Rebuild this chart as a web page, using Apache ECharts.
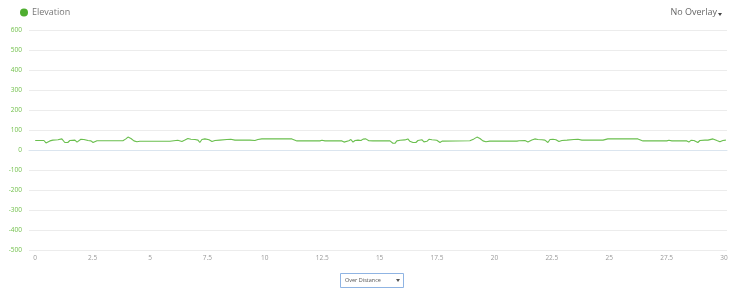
<!DOCTYPE html>
<html>
<head>
<meta charset="utf-8">
<script src="https://cdn.jsdelivr.net/npm/echarts@6/dist/echarts.min.js"></script>
<style>
html,body{margin:0;padding:0;background:#fff;}
#chart{width:738px;height:289px;}
</style>
</head>
<body>
<div id="chart"></div>
<script>
var distanceKm = [0,0.38,0.47,0.55,0.64,0.77,0.99,1.16,1.21,1.29,1.42,1.51,1.73,1.82,1.90,1.99,2.12,2.30,2.43,2.52,2.60,2.69,3.82,3.95,4.04,4.17,4.30,4.43,4.56,5.87,5.95,6.21,6.39,6.52,6.65,6.78,6.96,7.09,7.17,7.26,7.39,7.57,7.70,7.83,8.04,8.35,8.52,8.70,9.35,9.57,9.70,9.87,11.18,11.40,12.40,12.49,12.62,13.27,13.36,13.45,13.53,13.66,13.75,13.84,13.93,14.06,14.19,14.28,14.40,14.53,14.71,
  15.10,15.45,15.58,15.67,15.75,15.89,16.10,16.23,16.32,16.45,16.58,16.67,16.84,16.93,17.06,17.15,17.28,17.49,17.54,17.63,17.72,17.80,18.93,19.11,19.24,19.37,19.50,19.63,19.80,20.98,21.07,21.33,21.46,21.63,21.76,21.89,22.07,22.20,22.33,22.42,22.55,22.68,22.81,22.94,23.16,23.46,23.64,23.81,24.73,24.94,26.25,26.47,27.51,27.60,27.73,28.38,28.47,28.56,28.69,28.77,28.86,28.95,29.17,29.30,29.38,29.52,29.69,29.82,29.95,30.08];
var elevationM = [50,50,38,36,48,52,54,58,48,40,40,50,52,42,45,56,55,50,48,40,46,49,49,58,67,60,48,44,46,46,49,51,45,52,60,56,55,52,40,55,58,54,45,50,52,55,56,52,52,50,55,58,58,48,48,51,48,48,48,42,52,49,55,42,50,52,50,57,58,49,48,
  48,48,36,36,48,51,53,58,46,40,40,50,54,43,46,56,54,51,48,40,47,49,49,58,67,60,48,44,47,47,49,50,43,52,58,55,54,52,40,55,56,54,45,50,52,55,56,52,52,58,58,48,48,51,48,48,42,51,50,55,40,50,52,52,57,58,50,44,50,52];
var xTickLabels = [0,2.5,5,7.5,10,12.5,15,17.5,20,22.5,25,27.5,30];
var yTicks = [-500,-400,-300,-200,-100,0,100,200,300,400,500,600];
var legendName = 'Elevation';

var points = distanceKm.map(function(d,i){return [d, elevationM[i]];});
var chart = echarts.init(document.getElementById('chart'), null, {renderer:'canvas'});
var FONT = '"Open Sans", "DejaVu Sans", sans-serif';
chart.setOption({
  animation:false,
  backgroundColor:'#ffffff',
  textStyle:{fontFamily:FONT},
  legend:{
    left:15, top:3, itemWidth:8, itemHeight:8, itemGap:5, icon:'circle',
    textStyle:{fontSize:9, color:'#777', fontFamily:FONT, padding:[0,0,0,-1]},
    data:[legendName]
  },
  grid:{left:29, right:11, top:30.5, bottom:38.5, containLabel:false},
  xAxis:{
    type:'value', min:-0.27, max:30.13,
    axisLine:{show:true, lineStyle:{color:'#dbe5ef', width:1}},
    axisTick:{show:false},
    splitLine:{show:false},
    axisLabel:{customValues:xTickLabels, color:'#999', fontSize:6.5, margin:4, fontFamily:FONT,
      formatter:function(v){return String(v);}}
  },
  yAxis:{
    type:'value', min:yTicks[0], max:yTicks[yTicks.length-1], interval:100,
    axisLine:{show:false}, axisTick:{show:false},
    splitLine:{lineStyle:{color:'#ececec', width:1}},
    axisLabel:{color:'#72c04c', fontSize:6.5, margin:7, fontFamily:FONT}
  },
  series:[{
    name:legendName, type:'line', data:points, showSymbol:false, symbol:'circle',
    itemStyle:{color:'#4fae30'},
    lineStyle:{color:'#6abf4e', width:1.1},
    z:3
  }],
  graphic:[
    {type:'text', right:21, top:8, style:{text:'No Overlay', font:'9px '+FONT, fill:'#666'}},
    {type:'polygon', shape:{points:[[718,13],[722,13],[720,16]]}, style:{fill:'#444'}},
    {type:'rect', shape:{x:340.5,y:273.5,width:63,height:14}, style:{fill:'#fff', stroke:'#8fb4e3', lineWidth:1}},
    {type:'text', x:345, y:277, style:{text:'Over Distance', font:'5.5px '+FONT, fill:'#555'}},
    {type:'polygon', shape:{points:[[396,279],[400,279],[398,282]]}, style:{fill:'#555'}}
  ]
});
</script>
</body>
</html>
